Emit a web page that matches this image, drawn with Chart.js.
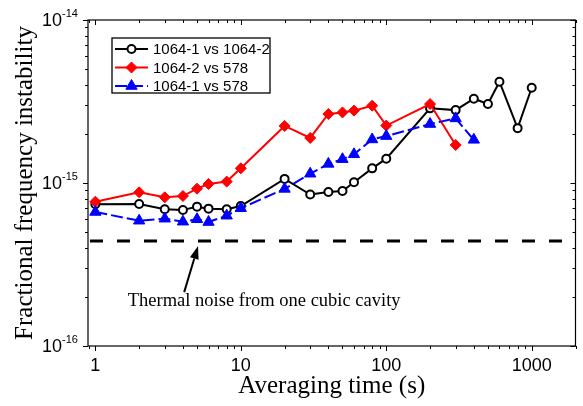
<!DOCTYPE html>
<html><head><meta charset="utf-8">
<script src="https://cdn.jsdelivr.net/npm/chart.js@4.4.0/dist/chart.umd.min.js"></script>
<style>html,body{margin:0;padding:0;background:#fff}#wrap{width:583px;height:406px;position:relative}</style>
</head><body><div id="wrap"><canvas id="c"></canvas></div>
<script>
// ---- data (fractional instability in units of 1e-15) ----
const UNIT = 1e-15;
const tauA = [1,2,3,4,5,6,8,10,20,30,40,50,60,80,100,200,300,400,500,600,800,1000];
const adevA = [0.74,0.743,0.69,0.683,0.716,0.696,0.69,0.722,1.06,0.85,0.88,0.893,1.01,1.23,1.41,2.87,2.80,3.29,3.05,4.18,2.17,3.84];
const tauB = [1,2,3,4,5,6,8,10,20,30,40,50,60,80,100,200,300];
const adevB = [0.768,0.877,0.817,0.832,0.923,0.986,1.02,1.23,2.24,1.89,2.65,2.71,2.78,2.98,2.25,3.05,1.71];
const tauC = [1,2,3,4,5,6,8,10,20,30,40,50,60,80,100,200,300,400];
const adevC = [0.664,0.587,0.604,0.579,0.599,0.576,0.63,0.70,0.92,1.14,1.31,1.40,1.50,1.85,1.94,2.30,2.49,1.84];
const thermalTau = [0.89, 2000];
const thermalLevel = [0.44, 0.44];
const seriesLabels = ['1064-1 vs 1064-2','1064-2 vs 578','1064-1 vs 578'];
const xMajorTicks = [1,10,100,1000];
const xTickLabels = ['1','10','100','1000'];
const yMajorTicks = [1e-16,1e-15,1e-14];
const yTickExp = ['-16','-15','-14'];
const annotationText = 'Thermal noise from one cubic cavity';
const X_MIN = 0.89, X_MAX = 2000, Y_MIN = 1e-16, Y_MAX = 1e-14;

const pts = (t, v) => t.map((x, i) => ({x: x, y: v[i] * UNIT}));

const SANS = "'Liberation Sans', Arial, sans-serif";
const SERIF = "'Liberation Serif', 'Times New Roman', serif";

const ds = [
  {label: seriesLabels[0], data: pts(tauA, adevA), borderColor:'#000', backgroundColor:'#fff',
   borderWidth:2, pointStyle:'circle', pointRadius:4, pointBorderWidth:2, pointBorderColor:'#000',
   pointBackgroundColor:'#fff', order:3},
  {label: seriesLabels[1], data: pts(tauB, adevB), borderColor:'#ff0000', backgroundColor:'#ff0000',
   borderWidth:2, pointStyle:'rectRot', pointRadius:5.5, pointBorderWidth:1, pointBorderColor:'#ff0000',
   pointBackgroundColor:'#ff0000', order:2},
  {label: seriesLabels[2], data: pts(tauC, adevC), borderColor:'#0000ff', backgroundColor:'#0000ff',
   borderWidth:2, borderDash:[12,4], pointStyle:'triangle', pointRadius:6.5, pointBorderWidth:1, pointBorderColor:'#0000ff',
   pointBackgroundColor:'#0000ff', order:1},
  {label: 'thermal', data: pts(thermalTau, thermalLevel), borderColor:'#000', borderWidth:3,
   borderDash:[13,14], borderDashOffset:25, pointRadius:0, order:4}
];

function minorList(lo, hi) {
  const out = [];
  for (let d = Math.floor(Math.log10(lo)); d <= Math.ceil(Math.log10(hi)); d++) {
    for (let m = 2; m <= 9; m++) { const v = m * Math.pow(10, d); if (v >= lo && v <= hi) out.push(v); }
  }
  return out;
}

const framePlugin = {
  id: 'frame',
  afterDraw(chart) {
    const {ctx, chartArea: a, scales: {x, y}} = chart;
    ctx.save();
    ctx.strokeStyle = '#000';
    ctx.lineWidth = 1.2;
    ctx.strokeRect(a.left, a.top, a.right - a.left, a.bottom - a.top);
    ctx.lineWidth = 1;
    ctx.beginPath();
    const xt = (v, len) => { const p = Math.round(x.getPixelForValue(v)) + 0.5;
      ctx.moveTo(p, a.bottom); ctx.lineTo(p, a.bottom + len);
      ctx.moveTo(p, a.top); ctx.lineTo(p, a.top + len); };
    const yt = (v, len) => { const p = Math.round(y.getPixelForValue(v)) + 0.5;
      ctx.moveTo(a.left - len, p); ctx.lineTo(a.left, p);
      ctx.moveTo(a.right - len, p); ctx.lineTo(a.right, p); };
    xMajorTicks.forEach(v => xt(v, 5));
    minorList(X_MIN, X_MAX).forEach(v => xt(v, 3));
    yMajorTicks.forEach(v => yt(v, 5));
    minorList(Y_MIN, Y_MAX).forEach(v => yt(v, 3));
    ctx.stroke();
    // tick labels
    ctx.fillStyle = '#000';
    ctx.font = '18px ' + SANS;
    ctx.textAlign = 'center'; ctx.textBaseline = 'middle';
    xMajorTicks.forEach((v, i) => ctx.fillText(xTickLabels[i], x.getPixelForValue(v), a.bottom + 20));
    yMajorTicks.forEach((v, i) => {
      const p = y.getPixelForValue(v);
      ctx.font = '18px ' + SANS; ctx.textAlign = 'right';
      ctx.fillText('10', 62, p + 1);
      ctx.font = '11px ' + SANS; ctx.textAlign = 'left';
      ctx.fillText(yTickExp[i], 62, p - 6);
    });
    // legend
    const lx = a.left + 24, ly = a.top + 18, lw = 158, lh = 55;
    ctx.fillStyle = '#fff';
    ctx.fillRect(lx, ly, lw, lh);
    ctx.lineWidth = 1.3; ctx.strokeStyle = '#000';
    ctx.strokeRect(lx, ly, lw, lh);
    for (let i = 0; i < 3; i++) {
      const d = chart.data.datasets[i];
      const cy = ly + 11 + i * 18.5;
      ctx.save();
      ctx.strokeStyle = d.borderColor; ctx.lineWidth = d.borderWidth;
      ctx.setLineDash(d.borderDash || []);
      ctx.beginPath(); ctx.moveTo(lx + 3, cy); ctx.lineTo(lx + 36, cy); ctx.stroke();
      ctx.setLineDash([]);
      ctx.fillStyle = d.pointBackgroundColor; ctx.strokeStyle = d.pointBorderColor;
      ctx.lineWidth = d.pointBorderWidth;
      Chart.helpers.drawPoint(ctx, {pointStyle: d.pointStyle, radius: d.pointRadius, borderWidth: d.pointBorderWidth, rotation: 0}, lx + 19.5, cy);
      ctx.restore();
      ctx.fillStyle = '#000'; ctx.font = '15px ' + SANS;
      ctx.textAlign = 'left'; ctx.textBaseline = 'middle';
      ctx.fillText(d.label, lx + 41, cy + 1);
    }
    // annotation
    const tipX = x.getPixelForValue(5.08), tipY = y.getPixelForValue(0.41 * UNIT);
    const tailX = x.getPixelForValue(4.08), tailY = y.getPixelForValue(0.214 * UNIT);
    const ang = Math.atan2(tipY - tailY, tipX - tailX);
    const hl = 13, hw = 4.5;
    const bx = tipX - hl * Math.cos(ang), by = tipY - hl * Math.sin(ang);
    ctx.strokeStyle = '#000'; ctx.lineWidth = 2;
    ctx.beginPath(); ctx.moveTo(tailX, tailY); ctx.lineTo(bx, by); ctx.stroke();
    ctx.fillStyle = '#000';
    ctx.beginPath();
    ctx.moveTo(tipX, tipY);
    ctx.lineTo(bx + hw * Math.sin(ang), by - hw * Math.cos(ang));
    ctx.lineTo(bx - hw * Math.sin(ang), by + hw * Math.cos(ang));
    ctx.closePath(); ctx.fill();
    ctx.font = '18.5px ' + SERIF; ctx.textAlign = 'left'; ctx.textBaseline = 'alphabetic';
    ctx.fillText(annotationText, x.getPixelForValue(1.67), 306);
    ctx.restore();
  }
};

new Chart(document.getElementById('c'), {
  type: 'line',
  data: {datasets: ds},
  options: {
    responsive: true, maintainAspectRatio: false, animation: false,
    devicePixelRatio: 1,
    layout: {padding: {top: 20, right: 2, left: 0, bottom: 0}},
    plugins: {legend: {display: false}, tooltip: {enabled: false}},
    elements: {line: {tension: 0}},
    scales: {
      x: {type: 'logarithmic', min: X_MIN, max: X_MAX,
          grid: {display: false}, border: {display: false}, ticks: {display: false},
          title: {display: true, text: 'Averaging time (s)', color: '#000',
                  font: {family: SERIF, size: 25}, padding: {top: 0, bottom: 5}},
          afterFit: s => { s.height = 60; }},
      y: {type: 'logarithmic', min: Y_MIN, max: Y_MAX,
          grid: {display: false}, border: {display: false}, ticks: {display: false},
          title: {display: true, text: 'Fractional frequency instability', color: '#000',
                  font: {family: SERIF, size: 25}, padding: {top: 10, bottom: 0}},
          afterFit: s => { s.width = 88; }}
    }
  },
  plugins: [framePlugin]
});
</script></body></html>
